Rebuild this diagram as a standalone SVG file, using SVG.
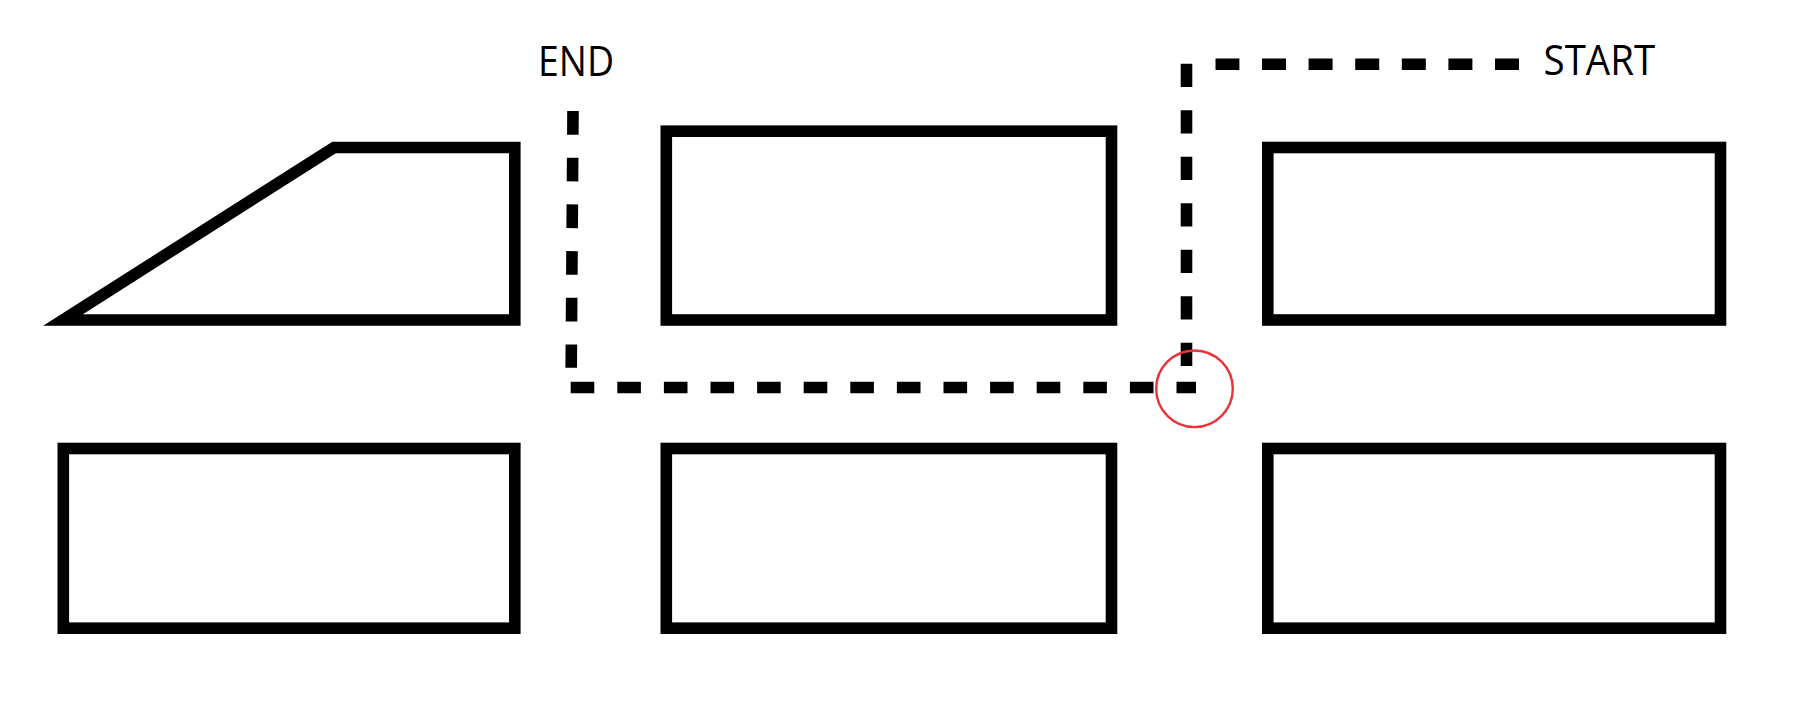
<svg xmlns="http://www.w3.org/2000/svg" width="1798" height="704" viewBox="0 0 1798 704">
<style>
.box{fill:#fff;stroke:#000;stroke-width:11.6;stroke-linejoin:miter;stroke-miterlimit:10}
.dash{fill:none;stroke:#000;stroke-width:11.6;stroke-linecap:butt}
.lbl{font-family:"Open Sans","Liberation Sans",sans-serif;font-size:42px;fill:#000}
.mark{fill:none;stroke:#e8333a;stroke-width:2.4}
</style>
<rect width="1798" height="704" fill="#fff"/>
<g id="node-top-left"><path class="box" d="M334,147.5 H514.8 V320 H63 Z"/></g>
<g id="node-top-middle"><rect class="box" x="666.3" y="131.2" width="445.2" height="188.8"/></g>
<g id="node-top-right"><rect class="box" x="1267.8" y="147.5" width="452.7" height="172.5"/></g>
<g id="node-bottom-left"><rect class="box" x="63.3" y="448.5" width="451.5" height="179.7"/></g>
<g id="node-bottom-middle"><rect class="box" x="666.3" y="448.5" width="445.2" height="179.7"/></g>
<g id="node-bottom-right"><rect class="box" x="1267.8" y="448.5" width="452.7" height="179.7"/></g>
<g id="connectors">
<line class="dash" x1="1519" y1="64.2" x2="1215.5" y2="64.2" stroke-dasharray="24 22.6"/>
<line class="dash" x1="1186.5" y1="63.8" x2="1186.5" y2="366.8" stroke-dasharray="23.3 23.2"/>
<line class="dash" x1="570.7" y1="387.5" x2="1196" y2="387.5" stroke-dasharray="23.6 23"/>
<line class="dash" x1="573" y1="111" x2="571.2" y2="367.8" stroke-dasharray="23.7 23"/>
</g>
<g id="labels">
<text class="lbl" x="538" y="75.5" textLength="76" lengthAdjust="spacingAndGlyphs">END</text>
<text class="lbl" x="1543.6" y="75" textLength="111.5" lengthAdjust="spacingAndGlyphs">START</text>
</g>
<g id="highlight"><circle class="mark" cx="1194.5" cy="388.8" r="38.3"/></g>
</svg>
